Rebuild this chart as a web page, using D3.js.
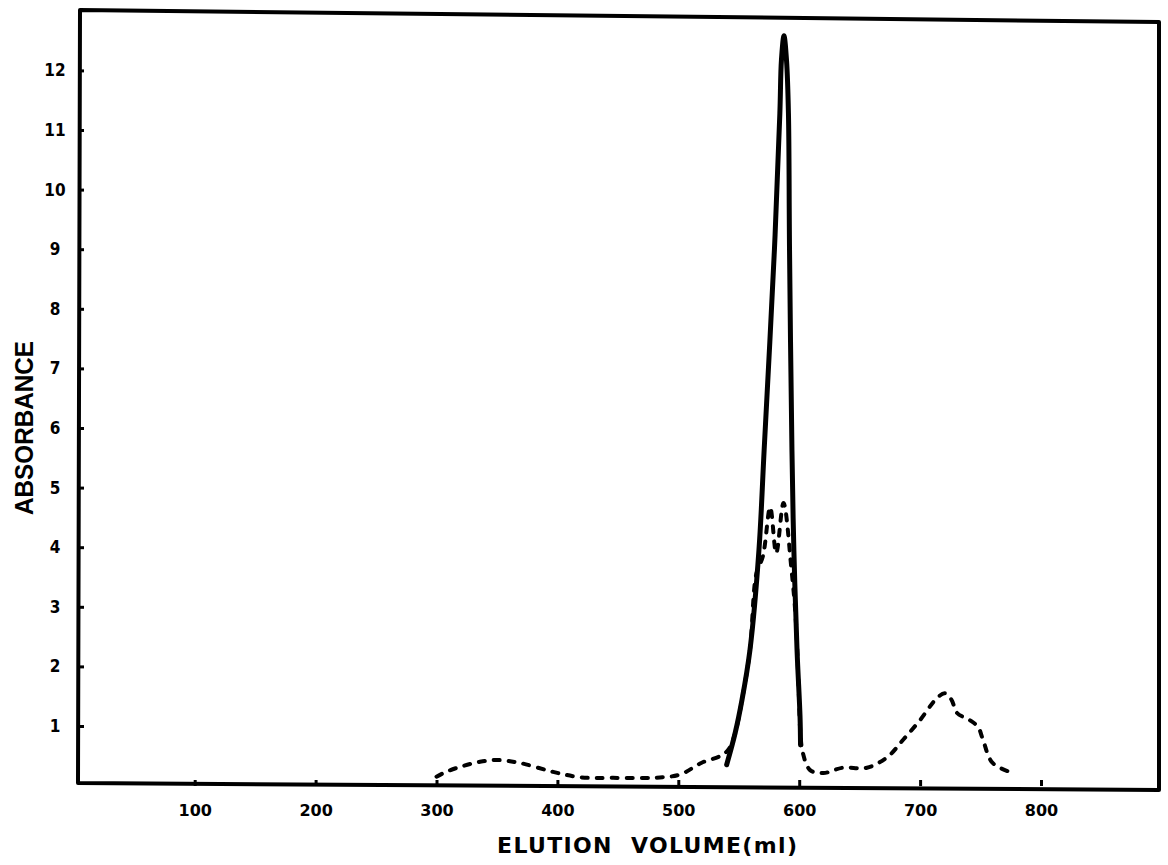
<!DOCTYPE html>
<html>
<head>
<meta charset="utf-8">
<script src="https://cdn.jsdelivr.net/npm/d3@7/dist/d3.min.js"></script>
<style>
  html, body { margin: 0; padding: 0; background: #fff; }
  svg { display: block; }
</style>
</head>
<body>
<script>
// ---- data ----
const volumeTicks = [100, 200, 300, 400, 500, 600, 700, 800];
const absorbanceTicks = [1, 2, 3, 4, 5, 6, 7, 8, 9, 10, 11, 12];

// solid curve (main peak)
const solidVolume = [540, 547, 552.7, 559.3, 566.7, 571, 579.5, 584, 585.3, 587.4, 589.5, 591.1, 592, 594, 595.6, 598.2, 600.7, 601.1];
const solidAbs    = [0.35, 0.88, 1.44, 2.28, 3.95, 5.63, 8.99, 11.28, 12.17, 12.58, 12.17, 11.28, 8.99, 5.63, 3.95, 2.28, 1.15, 0.68];

// dashed curve
const dashedVolume = [300, 309, 322, 336, 350, 369, 396.5, 419, 446, 487, 502, 519, 536, 542, 547, 552.7, 559.3, 564.5,
                      570, 576, 581, 587, 593.5, 597.2, 599.6, 601.1, 603, 609, 620, 636, 656, 673, 686, 700, 714, 720.6,
                      726, 730.5, 741, 748, 752, 760, 777];
const dashedAbs    = [0.15, 0.24, 0.33, 0.40, 0.43, 0.38, 0.23, 0.14, 0.13, 0.14, 0.19, 0.38, 0.51, 0.62, 0.88, 1.44, 2.28, 3.55,
                      3.85, 4.67, 3.90, 4.74, 3.65, 2.78, 1.60, 0.85, 0.55, 0.26, 0.21, 0.30, 0.30, 0.48, 0.77, 1.10, 1.47, 1.55,
                      1.44, 1.22, 1.10, 0.98, 0.77, 0.38, 0.21];

const xTitle = "ELUTION  VOLUME(ml)";
const yTitle = "ABSORBANCE";

// ---- layout ----
const W = 1168, H = 865;
const axisLeftX = 78, axisBottomY = 786;

const x = d3.scaleLinear().domain([0, 900]).range([73.8, 1161.9]);
const y = d3.scaleLinear().domain([0, 13]).range([785.6, 785.6 - 13 * 59.6]);

const svg = d3.select("body").append("svg")
  .attr("width", W).attr("height", H)
  .attr("viewBox", `0 0 ${W} ${H}`);

svg.append("rect").attr("width", W).attr("height", H).attr("fill", "#fff");

// frame (slightly skewed as in the scanned original)
const frame = d3.path();
frame.moveTo(axisLeftX, 783);
frame.lineTo(axisLeftX + 2, 10);
frame.lineTo(1159, 22);
frame.lineTo(1159, 790);
frame.closePath();
svg.append("path").attr("d", frame.toString())
  .attr("fill", "none").attr("stroke", "#000")
  .attr("stroke-width", 4).attr("stroke-linejoin", "round");

// x axis
const gx = svg.append("g")
  .attr("transform", `translate(0,${axisBottomY})`)
  .call(d3.axisBottom(x).tickValues(volumeTicks).tickSize(-6).tickPadding(19).tickFormat(d3.format("d")));
gx.select(".domain").remove();
gx.selectAll(".tick line").attr("stroke", "#000").attr("stroke-width", 3);
gx.selectAll(".tick text")
  .attr("fill", "#000")
  .attr("font-family", "'DejaVu Sans', sans-serif")
  .attr("font-weight", "bold")
  .attr("font-size", 16);

// y axis
const gy = svg.append("g")
  .attr("transform", `translate(${axisLeftX},0)`)
  .call(d3.axisLeft(y).tickValues(absorbanceTicks).tickSize(-6).tickPadding(23).tickFormat(d3.format("d")));
gy.select(".domain").remove();
gy.selectAll(".tick line").attr("stroke", "#000").attr("stroke-width", 3);
gy.selectAll(".tick text")
  .attr("fill", "#000")
  .attr("text-anchor", "middle")
  .attr("x", -23)
  .attr("font-family", "'DejaVu Sans', sans-serif")
  .attr("font-weight", "bold")
  .attr("font-stretch", "condensed")
  .attr("font-size", 17);

// axis titles
svg.append("text")
  .attr("x", 497).attr("y", 853)
  .attr("textLength", 300).attr("lengthAdjust", "spacing")
  .style("white-space", "pre")
  .attr("font-family", "'DejaVu Sans', sans-serif")
  .attr("font-weight", "bold")
  .attr("font-size", 22)
  .attr("fill", "#000")
  .text(xTitle);

svg.append("text")
  .attr("transform", "translate(33,428) rotate(-90)")
  .attr("text-anchor", "middle")
  .attr("textLength", 174).attr("lengthAdjust", "spacingAndGlyphs")
  .attr("font-family", "'Liberation Sans', Arial, sans-serif")
  .attr("font-weight", "bold")
  .attr("font-size", 26)
  .attr("fill", "#000")
  .text(yTitle);

// curves
const dashedData = dashedVolume.map((v, i) => [v, dashedAbs[i]]);
const solidData = solidVolume.map((v, i) => [v, solidAbs[i]]);

const line = d3.line()
  .x(d => x(d[0])).y(d => y(d[1]))
  .curve(d3.curveCatmullRom.alpha(0.5));

svg.append("path")
  .datum(dashedData)
  .attr("d", line)
  .attr("fill", "none")
  .attr("stroke", "#000")
  .attr("stroke-width", 4)
  .attr("stroke-linecap", "round")
  .attr("stroke-dasharray", "6,9");

svg.append("path")
  .datum(solidData)
  .attr("d", line)
  .attr("fill", "none")
  .attr("stroke", "#000")
  .attr("stroke-width", 5)
  .attr("stroke-linecap", "round")
  .attr("stroke-linejoin", "round");
</script>
</body>
</html>
